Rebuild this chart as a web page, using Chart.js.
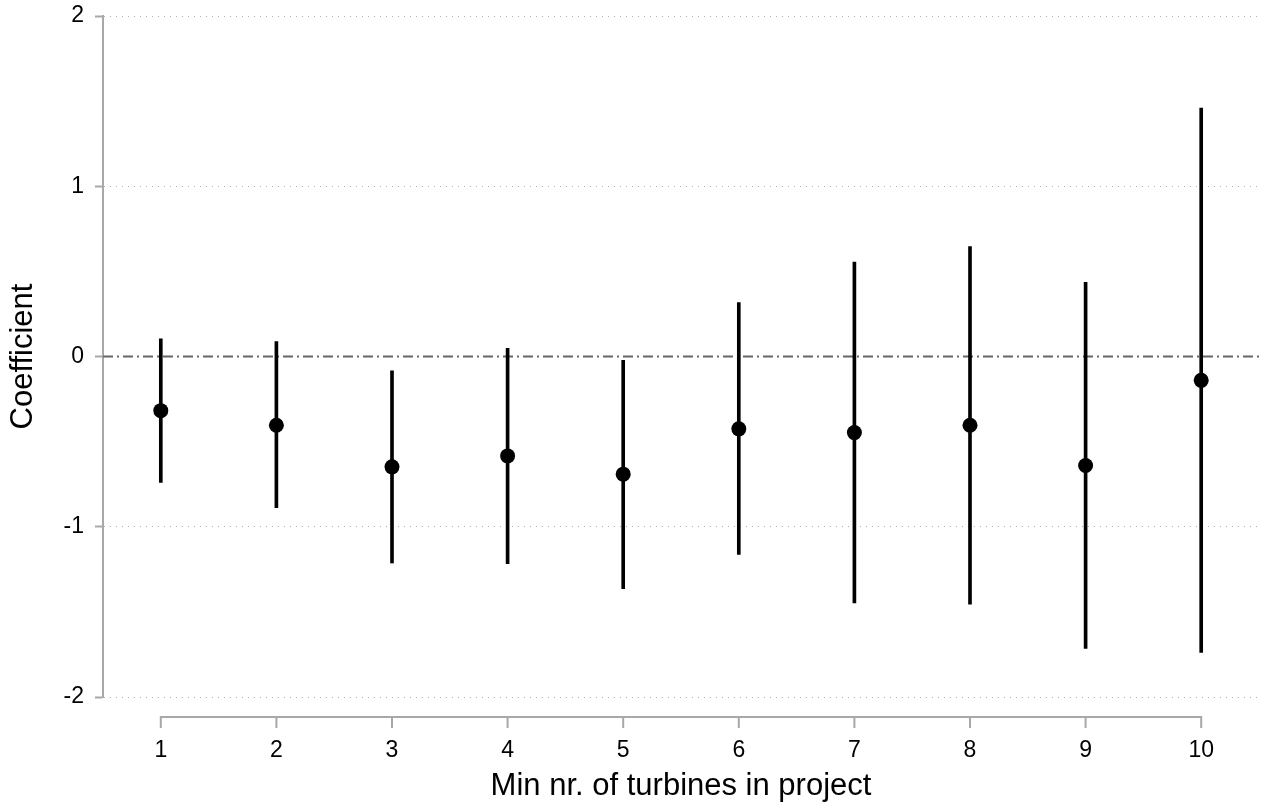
<!DOCTYPE html>
<html lang="en">
<head>
    <meta charset="UTF-8">
    <title>Coefficient plot</title>
    <script src="https://cdn.jsdelivr.net/npm/chart.js@4.4.0/dist/chart.umd.min.js"></script>
    <style>
        html, body { margin: 0; padding: 0; background: #fff; }
        #wrap { width: 1274px; height: 811px; }
    </style>
</head>
<body>
    <div id="wrap"><canvas id="coefChart"></canvas></div>

    <script>
        // min nr. of turbines in project, point estimates and CI ends
        const turbines = [1, 2, 3, 4, 5, 6, 7, 8, 9, 10];
        const coef   = [-0.318, -0.404, -0.648, -0.584, -0.691, -0.425, -0.447, -0.404, -0.640, -0.140];
        const ciLow  = [-0.740, -0.888, -1.213, -1.217, -1.363, -1.162, -1.447, -1.455, -1.715, -1.738];
        const ciHigh = [0.104, 0.087, -0.084, 0.048, -0.022, 0.316, 0.555, 0.646, 0.436, 1.459];
        const yTicks = [-2, -1, 0, 1, 2];
        const xRange = [0.5, 10.5];
        const refValue = 0;

        const axisGrey = '#a8a8a8';
        const fontFamily = '"Liberation Sans", Arial, Helvetica, sans-serif';

        // stata-style x axis: line only from first to last tick, set below the plot
        const xAxisLine = {
            id: 'xAxisLine',
            afterDraw(chart) {
                const xs = chart.scales.x;
                const ctx = chart.ctx;
                const y0 = chart.chartArea.bottom + 20;
                const first = xs.getPixelForValue(turbines[0]);
                const last = xs.getPixelForValue(turbines[turbines.length - 1]);
                ctx.save();
                ctx.strokeStyle = axisGrey;
                ctx.lineWidth = 2;
                ctx.beginPath();
                ctx.moveTo(first - 1, y0);
                ctx.lineTo(last + 1, y0);
                turbines.forEach(t => {
                    const px = xs.getPixelForValue(t);
                    ctx.moveTo(px, y0);
                    ctx.lineTo(px, y0 + 11);
                });
                ctx.stroke();
                ctx.restore();
            }
        };

        const ctx = document.getElementById('coefChart').getContext('2d');
        const coefChart = new Chart(ctx, {
            type: 'bar',
            data: {
                datasets: [
                    {
                        type: 'scatter',
                        data: turbines.map((t, i) => ({ x: t, y: coef[i] })),
                        backgroundColor: '#000',
                        borderWidth: 0,
                        pointRadius: 7.5,
                        order: 1
                    },
                    {
                        type: 'bar',
                        data: turbines.map((t, i) => ({ x: t, y: [ciLow[i], ciHigh[i]] })),
                        backgroundColor: '#000',
                        borderWidth: 0,
                        barThickness: 3,
                        order: 2
                    },
                    {
                        type: 'line',
                        data: xRange.map(x => ({ x: x, y: refValue })),
                        borderColor: '#666',
                        borderWidth: 2,
                        borderDash: [10, 4, 2, 4],
                        pointRadius: 0,
                        order: 3
                    }
                ]
            },
            options: {
                responsive: true,
                maintainAspectRatio: false,
                animation: false,
                layout: { autoPadding: false, padding: { top: 16, right: 15, bottom: 0, left: 0 } },
                plugins: {
                    legend: { display: false },
                    tooltip: { enabled: false }
                },
                scales: {
                    x: {
                        type: 'linear',
                        offset: false,
                        min: xRange[0],
                        max: xRange[1],
                        afterBuildTicks: s => { s.ticks = turbines.map(v => ({ value: v })); },
                        afterFit: s => { s.height = 114; },
                        grid: { display: false, drawTicks: false, offset: false },
                        border: { display: false },
                        ticks: {
                            padding: 40,
                            color: '#000',
                            font: { family: fontFamily, size: 23 },
                            maxRotation: 0
                        },
                        title: {
                            display: true,
                            text: 'Min nr. of turbines in project',
                            color: '#000',
                            font: { family: fontFamily, size: 31 },
                            padding: { top: 0, bottom: 6 }
                        }
                    },
                    y: {
                        min: yTicks[0],
                        max: yTicks[yTicks.length - 1],
                        afterBuildTicks: s => { s.ticks = yTicks.map(v => ({ value: v })); },
                        afterFit: s => {
                            s.width = 103;
                            s.paddingTop = 0;
                            s.paddingBottom = 0;
                        },
                        grid: {
                            color: c => (c.tick && c.tick.value === refValue) ? 'rgba(0,0,0,0)' : '#b0b0b0',
                            lineWidth: 1,
                            tickLength: 8,
                            tickWidth: 2,
                            tickColor: axisGrey
                        },
                        border: { display: true, color: axisGrey, width: 2, dash: [1, 5] },
                        ticks: {
                            padding: 11,
                            color: '#000',
                            font: { family: fontFamily, size: 23 }
                        },
                        title: {
                            display: true,
                            text: 'Coefficient',
                            color: '#000',
                            font: { family: fontFamily, size: 31 },
                            padding: { top: 5, bottom: 0 }
                        }
                    }
                }
            },
            plugins: [xAxisLine]
        });
    </script>
</body>
</html>
